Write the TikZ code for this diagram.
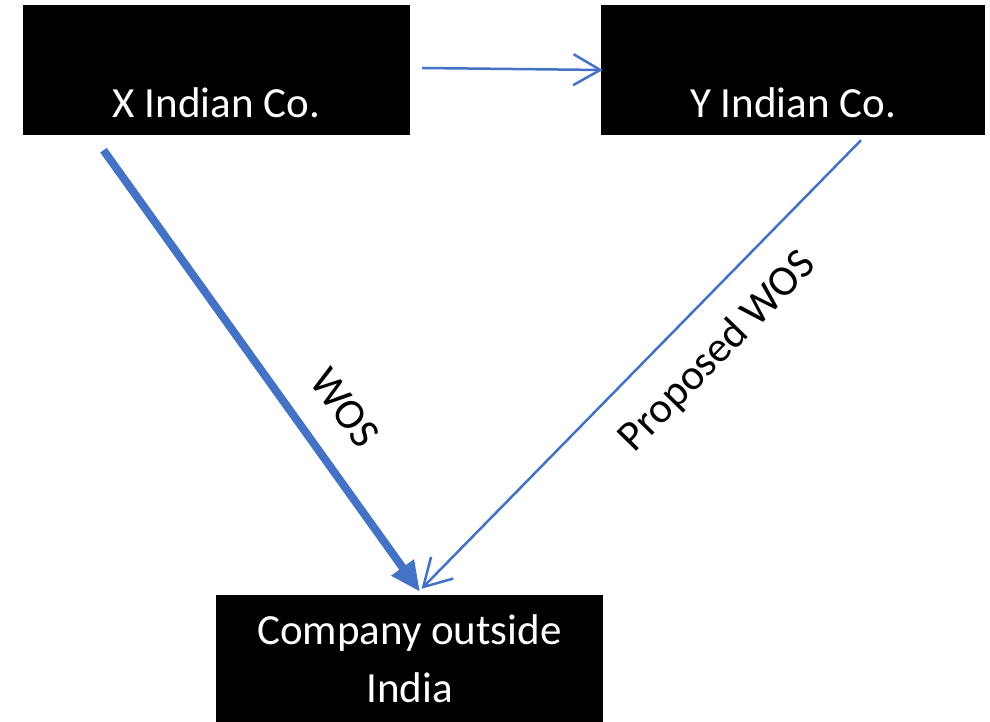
\documentclass[tikz,border=0pt]{standalone}
\usepackage{fontspec}
\setmainfont{Carlito}
\usetikzlibrary{arrows.meta}
\definecolor{linkblue}{HTML}{4472C4}
\tikzset{
  box/.style={fill=black, text=white, inner sep=0pt, font=\fontsize{43}{58}\selectfont},
  lbl/.style={text=black, inner sep=0pt, font=\fontsize{43}{52}\selectfont},
  thinlink/.style={draw=linkblue, line width=2.5pt, -{Straight Barb[length=27pt,width=31pt,line width=2.5pt]}},
  thicklink/.style={draw=linkblue, line width=8pt, -{Triangle[length=30pt,width=26pt]}}
}
\begin{document}
\begin{tikzpicture}[x=1pt,y=-1pt]
\useasboundingbox (0,0) rectangle (990,722);
\node[box, minimum width=387pt, minimum height=130pt, text height=100pt, text depth=4pt] (X) at (216.5,70) {X Indian Co.};
\node[box, minimum width=384pt, minimum height=130pt, text height=100pt, text depth=4pt] (Y) at (793,70) {Y Indian Co.};
\node[box, minimum width=387pt, minimum height=127pt, align=center] (C) at (409.5,658.5) {Company outside\\India};
\draw[thinlink] ([shift={(12,-2)}]X.east) -- ([shift={(2,0)}]Y.west);
\draw[thicklink] ([shift={(-113,15)}]X.south) -- ([shift={(10.5,-3)}]C.north);
\draw[thinlink] ([shift={(68,5)}]Y.south) -- ([shift={(12,-6)}]C.north);
\node[lbl, rotate=-54] (w1) at (345,408) {WOS};
\node[lbl, rotate=45.6] (w2) at (718,352) {Proposed WOS};
\end{tikzpicture}
\end{document}
